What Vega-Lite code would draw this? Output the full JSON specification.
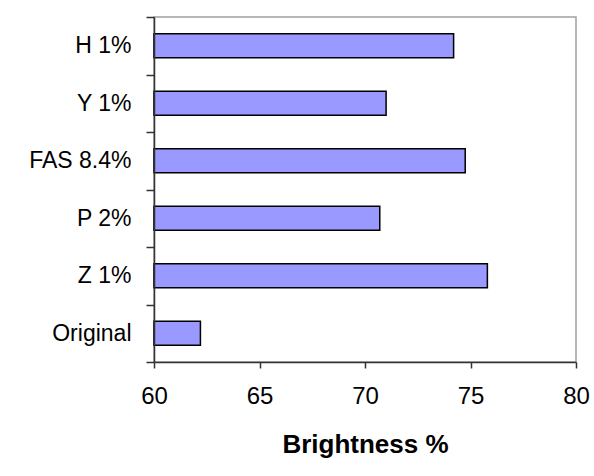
{
  "$schema": "https://vega.github.io/schema/vega-lite/v6.json",
  "autosize": "none",
  "width": 422,
  "height": 345,
  "padding": {"left": 154, "top": 17, "right": 18, "bottom": 114},
  "background": "white",
  "data": {
    "values": [
      {"treatment": "H 1%", "brightness": 74.2},
      {"treatment": "Y 1%", "brightness": 71.0},
      {"treatment": "FAS 8.4%", "brightness": 74.75},
      {"treatment": "P 2%", "brightness": 70.7},
      {"treatment": "Z 1%", "brightness": 75.8},
      {"treatment": "Original", "brightness": 62.2}
    ]
  },
  "mark": {"type": "bar", "fill": "#9999FF", "stroke": "#000000", "strokeWidth": 1.5, "height": {"band": 0.417}},
  "encoding": {
    "y": {
      "field": "treatment",
      "type": "nominal",
      "sort": null,
      "scale": {"paddingInner": 0, "paddingOuter": 0},
      "axis": {
        "title": null,
        "domainColor": "#333333",
        "domainWidth": 1.5,
        "tickColor": "#333333",
        "tickWidth": 1.5,
        "tickSize": 8,
        "tickBand": "extent",
        "tickExtra": true,
        "labelFont": "Liberation Sans",
        "labelFontSize": 23,
        "labelColor": "#000000",
        "labelPadding": 15,
        "zindex": 1
      }
    },
    "x": {
      "field": "brightness",
      "type": "quantitative",
      "scale": {"domain": [60, 80], "zero": false},
      "axis": {
        "title": "Brightness %",
        "values": [60, 65, 70, 75, 80],
        "grid": false,
        "labelFlush": false,
        "domainColor": "#333333",
        "domainWidth": 1.5,
        "tickColor": "#333333",
        "tickWidth": 1.5,
        "tickSize": 6,
        "labelFont": "Liberation Sans",
        "labelFontSize": 24,
        "labelColor": "#000000",
        "labelPadding": 16,
        "titleFont": "Liberation Sans",
        "titleFontSize": 26,
        "titleFontWeight": "bold",
        "titleColor": "#000000",
        "titleBaseline": "alphabetic",
        "titleY": 90,
        "zindex": 1
      }
    },
    "x2": {"datum": 60}
  },
  "config": {
    "view": {"stroke": "#a0a0a0", "strokeWidth": 1.5}
  }
}
